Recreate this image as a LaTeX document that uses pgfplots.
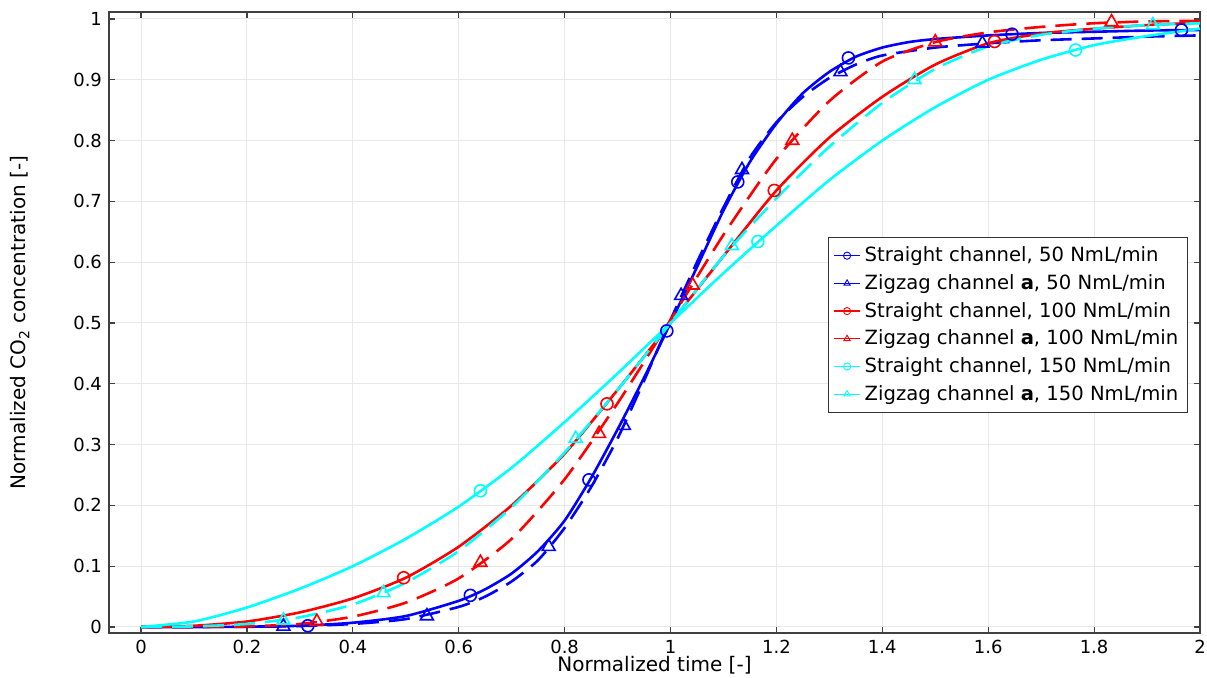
\documentclass[border=0pt]{standalone}
\usepackage{fontspec}
\setmainfont{DejaVu Sans}
\usepackage{pgfplots}
\pgfplotsset{compat=1.18}
\definecolor{cb}{RGB}{0,0,255}
\definecolor{cr}{RGB}{255,0,0}
\definecolor{cc}{RGB}{0,255,255}

\pgfplotsset{
  curve/.style={line width=1.3pt, no marks, smooth, tension=0.4},
  dsh/.style={dash pattern=on 10.5pt off 5pt},
  pts/.style={only marks, mark size=3pt, mark options={solid, line width=0.8pt}},
  tri/.style={mark=triangle, mark size=3.7pt},
}

\begin{document}
\begin{tikzpicture}
\begin{axis}[
  scale only axis,
  width=545.5pt, height=310.5pt,
  xmin=-0.0605, xmax=2, ymin=-0.0099, ymax=1.0115,
  xtick={0,0.2,...,2}, ytick={0,0.1,...,1},
  /pgf/number format/assume math mode=true,
  tick label style={font=\fontsize{9}{11}\selectfont},
  label style={font=\fontsize{9}{11}\selectfont},
  xlabel={Normalized time [-]},
  ylabel={Normalized CO\textsubscript{2} concentration [-]},
  every axis x label/.style={at={(axis description cs:0.5,0)}, anchor=center, yshift=-16pt},
  every axis y label/.style={at={(axis description cs:-0.0815,0.5)}, anchor=center, rotate=90},
  grid=major, grid style={gray!18, line width=0.5pt},
  axis line style={black!75, line width=0.6pt},
  tick style={black!75, line width=0.6pt},
  tick align=inside, major tick length=3pt,
  legend cell align=left,
  legend style={at={(axis cs:1.977,0.641)}, anchor=north east,
    font=\fontsize{9.8}{11}\selectfont, draw=black!80, line width=0.5pt,
    inner sep=2.5pt, row sep=0.9pt},
  legend image code/.code={\draw[#1, line width=0.6pt, mark size=1.8pt, mark options={line width=0.45pt},
    mark repeat=2, mark phase=2]
    plot coordinates {(0pt,0pt) (6.5pt,0pt) (13pt,0pt)};},
]

% Straight channel, 50 NmL/min
\addplot[curve, cb, forget plot] coordinates {
(0,0) (0.1,0) (0.2,0.0005) (0.3,0.002) (0.4,0.007) (0.5,0.018) (0.6,0.043)
(0.65,0.062) (0.7,0.088) (0.75,0.125) (0.8,0.175) (0.85,0.245) (0.9,0.325)
(0.95,0.41) (1.0,0.5) (1.05,0.592) (1.1,0.685) (1.15,0.765) (1.2,0.828)
(1.25,0.878) (1.3,0.913) (1.35,0.938) (1.4,0.953) (1.45,0.962) (1.5,0.967)
(1.6,0.973) (1.7,0.977) (1.8,0.979) (1.9,0.981) (2.0,0.982)};
\addplot[pts, cb, mark=o, forget plot] coordinates {
(0.315,0.002) (0.622,0.052) (0.846,0.242) (0.993,0.487) (1.127,0.732)
(1.336,0.936) (1.645,0.975) (1.965,0.982)};

% Zigzag channel a, 50 NmL/min
\addplot[curve, dsh, cb, forget plot] coordinates {
(0,0) (0.1,0) (0.2,0.0003) (0.3,0.0015) (0.4,0.005) (0.5,0.013)
(0.6,0.033) (0.65,0.05) (0.7,0.075) (0.75,0.11) (0.8,0.163) (0.85,0.23)
(0.9,0.31) (0.95,0.405) (1.0,0.505) (1.05,0.6) (1.1,0.69) (1.15,0.772)
(1.2,0.83) (1.25,0.872) (1.3,0.903) (1.35,0.925) (1.4,0.94) (1.5,0.953)
(1.6,0.96) (1.7,0.965) (1.8,0.968) (1.9,0.971) (2.0,0.973)};
\addplot[pts, cb, tri, forget plot] coordinates {
(0.269,0.001) (0.54,0.018) (0.77,0.132) (0.912,0.331) (1.02,0.545)
(1.135,0.752) (1.321,0.913) (1.589,0.96)};

% Straight channel, 100 NmL/min
\addplot[curve, cr, forget plot] coordinates {
(0,0) (0.1,0.002) (0.2,0.009) (0.3,0.024) (0.4,0.047) (0.5,0.081) (0.6,0.132)
(0.7,0.2) (0.8,0.285) (0.9,0.39) (1.0,0.5) (1.1,0.61) (1.2,0.718)
(1.3,0.805) (1.4,0.872) (1.5,0.925) (1.6,0.96) (1.7,0.976) (1.8,0.984)
(1.9,0.99) (2.0,0.994)};
\addplot[pts, cr, mark=o, forget plot] coordinates {
(0.496,0.081) (0.88,0.367) (1.196,0.718) (1.612,0.963)};

% Zigzag channel a, 100 NmL/min
\addplot[curve, dsh, cr, forget plot] coordinates {
(0,0) (0.1,0) (0.2,0.001) (0.3,0.005) (0.4,0.017) (0.5,0.04)
(0.6,0.08) (0.7,0.145) (0.8,0.243) (0.9,0.368) (1.0,0.505) (1.1,0.645)
(1.2,0.77) (1.3,0.865) (1.4,0.93) (1.5,0.962) (1.6,0.978) (1.7,0.987)
(1.8,0.993) (1.9,0.996) (2.0,0.997)};
\addplot[pts, cr, tri, forget plot] coordinates {
(0.332,0.009) (0.641,0.106) (0.865,0.318) (1.042,0.562) (1.23,0.8)
(1.50,0.962) (1.833,0.995)};

% Straight channel, 150 NmL/min
\addplot[curve, cc, forget plot] coordinates {
(0,0) (0.1,0.009) (0.2,0.032) (0.3,0.063) (0.4,0.1) (0.5,0.145) (0.6,0.198)
(0.7,0.262) (0.8,0.337) (0.9,0.417) (1.0,0.5) (1.1,0.582) (1.2,0.66)
(1.3,0.735) (1.4,0.8) (1.5,0.855) (1.6,0.9) (1.7,0.933) (1.8,0.957)
(1.9,0.972) (2.0,0.984)};
\addplot[pts, cc, mark=o, forget plot] coordinates {
(0.641,0.224) (1.165,0.634) (1.765,0.949)};

% Zigzag channel a, 150 NmL/min
\addplot[curve, dsh, cc, forget plot] coordinates {
(0,0) (0.1,0.001) (0.2,0.005) (0.3,0.016) (0.4,0.037) (0.5,0.073)
(0.6,0.125) (0.7,0.197) (0.8,0.287) (0.9,0.39) (1.0,0.5) (1.1,0.61)
(1.2,0.705) (1.3,0.79) (1.4,0.862) (1.5,0.918) (1.6,0.955) (1.7,0.974)
(1.8,0.984) (1.9,0.99) (2.0,0.993)};
\addplot[pts, cc, tri, forget plot] coordinates {
(0.269,0.011) (0.458,0.056) (0.821,0.31) (1.116,0.627) (1.461,0.9) (1.911,0.99)};

\addlegendimage{cb, mark=o}
\addlegendentry{Straight channel, 50 NmL/min}
\addlegendimage{cb, mark=triangle}
\addlegendentry{Zigzag channel \textbf{a}, 50 NmL/min}
\addlegendimage{cr, mark=o}
\addlegendentry{Straight channel, 100 NmL/min}
\addlegendimage{cr, mark=triangle}
\addlegendentry{Zigzag channel \textbf{a}, 100 NmL/min}
\addlegendimage{cc, mark=o}
\addlegendentry{Straight channel, 150 NmL/min}
\addlegendimage{cc, mark=triangle}
\addlegendentry{Zigzag channel \textbf{a}, 150 NmL/min}
\end{axis}
\pgfresetboundingbox
\path ([shift={(-54.5pt,-22pt)}]current axis.south west) rectangle ([shift={(3.5pt,6pt)}]current axis.north east);
\end{tikzpicture}
\end{document}
